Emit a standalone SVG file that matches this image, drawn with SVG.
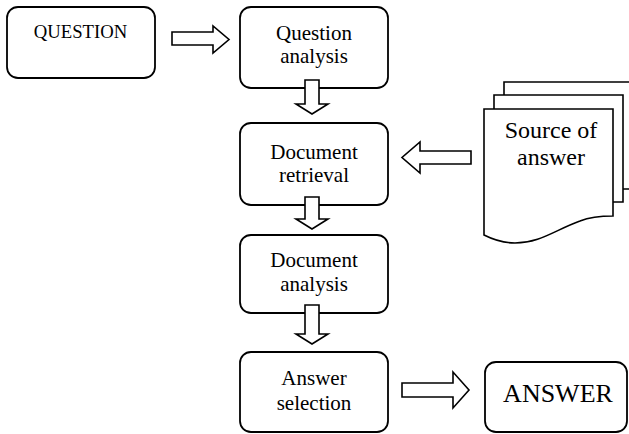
<svg xmlns="http://www.w3.org/2000/svg" width="629" height="434" viewBox="0 0 629 434">
<style>
.box{fill:#fff;stroke:#000;stroke-width:1.8}
.arr{fill:#fff;stroke:#000;stroke-width:1.6;stroke-linejoin:miter}
.doc{fill:#fff;stroke:#000;stroke-width:1.6}
text{font-family:"Liberation Serif","Times New Roman",serif;fill:#000;text-anchor:middle}
.t{font-size:21px}
</style>
<rect width="629" height="434" fill="#fff"/>
<g id="question">
<rect class="box" x="7" y="7" width="148" height="71" rx="11"/>
<text x="80.5" y="38" font-size="18.7">QUESTION</text>
</g>
<g id="question-analysis">
<rect class="box" x="240" y="7" width="148" height="81" rx="11"/>
<text class="t" x="314" y="40">Question</text>
<text class="t" x="314" y="63">analysis</text>
</g>
<g id="document-retrieval">
<rect class="box" x="240" y="123" width="148" height="82" rx="11"/>
<text class="t" x="314" y="159">Document</text>
<text class="t" x="314" y="182">retrieval</text>
</g>
<g id="document-analysis">
<rect class="box" x="240" y="235" width="148" height="78" rx="11"/>
<text class="t" x="314" y="267">Document</text>
<text class="t" x="314" y="291">analysis</text>
</g>
<g id="answer-selection">
<rect class="box" x="240" y="352" width="148" height="80" rx="11"/>
<text class="t" x="314" y="385">Answer</text>
<text class="t" x="314" y="410">selection</text>
</g>
<g id="answer">
<rect class="box" x="485" y="362" width="142" height="70" rx="11"/>
<text x="558" y="402" font-size="26">ANSWER</text>
</g>
<g id="source-of-answer">
<path class="doc" d="M504,82 H640 V189 H504 Z"/>
<path class="doc" d="M494,95 H623 V202 H494 Z"/>
<path class="doc" d="M484,109 H613 V216 C600,216 590,217 580,221 C555,230 540,243 515,243 C500,243 490,238 484,235 Z"/>
<text x="551" y="138" font-size="24">Source of</text>
<text x="551" y="165" font-size="24">answer</text>
</g>
<g id="connectors">
<polygon class="arr" points="172,32 213,32 213,26 229,39.5 213,53 213,45 172,45"/>
<polygon class="arr" points="305,80 319,80 319,104 328,104 312,114 296,104 305,104"/>
<polygon class="arr" points="305,197 319,197 319,219 328,219 312,229 296,219 305,219"/>
<polygon class="arr" points="305,305 319,305 319,334 328,334 312,344 296,334 305,334"/>
<polygon class="arr" points="471,151 420,151 420,142 402,157.5 420,173 420,164 471,164"/>
<polygon class="arr" points="402,383 453,383 453,372 469,390 453,408 453,397 402,397"/>
</g>
</svg>
